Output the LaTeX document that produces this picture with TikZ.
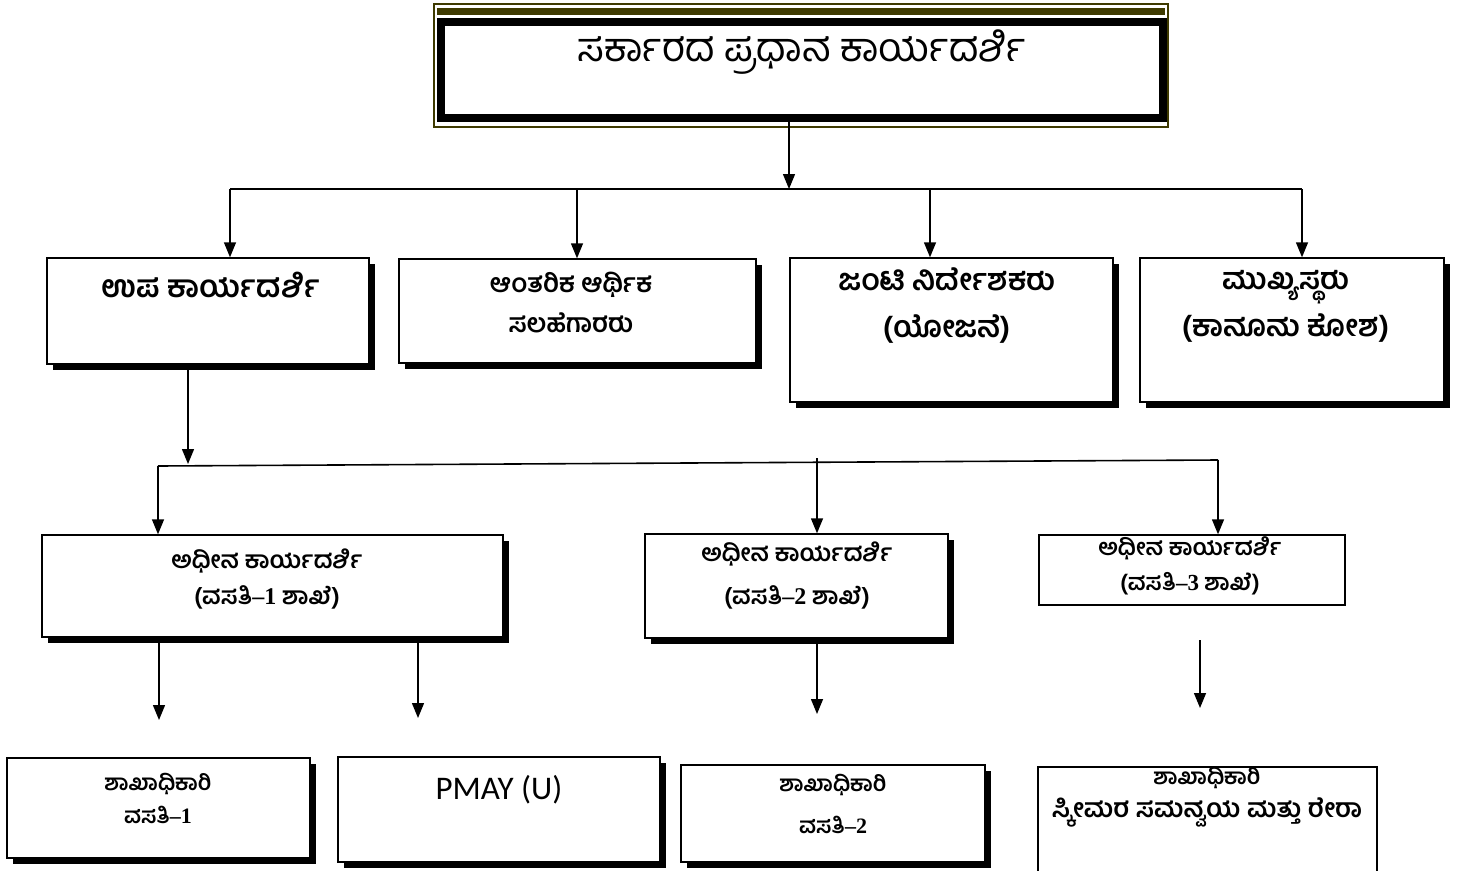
\documentclass[tikz,border=0pt]{standalone}
\usepackage{fontspec}
\setmainfont{Liberation Serif}
\newfontfamily\kn[Script=Kannada]{Hind Mysuru}
\newfontfamily\calfont{Carlito}
\usetikzlibrary{arrows.meta,positioning,shadows}
\definecolor{olivedark}{RGB}{62,58,0}
\newcommand{\tnum}[1]{{\rmfamily\bfseries #1}}
\begin{document}
\begin{tikzpicture}[x=1pt,y=-1pt,
    box/.style={draw,line width=1.4pt,fill=white,inner sep=0pt},
    shbox/.style={box,drop shadow={shadow xshift=6pt,shadow yshift=-6pt,fill=black,opacity=1}},
    lbl/.style 2 args={align=center,inner sep=0pt,font=\kn\bfseries\fontsize{#1}{#2}\selectfont},
    arr/.style={line width=1.4pt,-{Triangle[length=15pt,width=12pt]}},
    bus/.style={line width=1.6pt}]
  \useasboundingbox (0,0) rectangle (1471,870);

  % Head of department
  \draw[olivedark,line width=1.2pt] (434,4) rectangle (1168,127);
  \fill[olivedark] (437,8) rectangle (1165,15);
  \node[draw,line width=8pt,minimum width=722pt,minimum height=96pt,inner sep=0pt] (psec) at (802,70) {};
  \node[font=\kn\fontsize{40}{48}\selectfont] (psec-t) at (802,52) {ಸರ್ಕಾರದ ಪ್ರಧಾನ ಕಾರ್ಯದರ್ಶಿ};

  % Second level
  \node[shbox,minimum width=322pt,minimum height=106pt] (dsec) at (208,311) {};
  \node[lbl={31}{40}] (dsec-t) at (211,285) {ಉಪ ಕಾರ್ಯದರ್ಶಿ};
  \node[shbox,minimum width=357pt,minimum height=104pt] (adv) at (577.5,311) {};
  \node[lbl={26}{40}] (adv-t) at (571,303) {ಆಂತರಿಕ ಆರ್ಥಿಕ\\ಸಲಹೆಗಾರರು};
  \node[shbox,minimum width=323pt,minimum height=144pt] (jdir) at (951.5,330) {};
  \node[lbl={30}{47}] (jdir-t) at (947,306) {ಜಂಟಿ ನಿರ್ದೇಶಕರು\\(ಯೋಜನೆ)};
  \node[shbox,minimum width=304pt,minimum height=144pt] (chief) at (1292,330) {};
  \node[lbl={30}{47}] (chief-t) at (1286,306) {ಮುಖ್ಯಸ್ಥರು\\(ಕಾನೂನು ಕೋಶ)};

  % Third level
  \node[shbox,minimum width=461pt,minimum height=102pt] (usec1) at (272.5,586) {};
  \node[lbl={24}{36}] (usec1-t) at (267,579) {ಅಧೀನ ಕಾರ್ಯದರ್ಶಿ\\(ವಸತಿ\tnum{–1} ಶಾಖೆ)};
  \node[shbox,minimum width=303pt,minimum height=104pt] (usec2) at (796.5,586) {};
  \node[lbl={24}{43}] (usec2-t) at (797,576) {ಅಧೀನ ಕಾರ್ಯದರ್ಶಿ\\(ವಸತಿ\tnum{–2} ಶಾಖೆ)};
  \node[box,minimum width=306pt,minimum height=70pt] (usec3) at (1192,570) {};
  \node[lbl={23}{35}] (usec3-t) at (1190,566) {ಅಧೀನ ಕಾರ್ಯದರ್ಶಿ\\(ವಸತಿ\tnum{–3} ಶಾಖೆ)};

  % Section officers
  \node[shbox,minimum width=303pt,minimum height=100pt] (so1) at (158.5,808) {};
  \node[lbl={22}{33}] (so1-t) at (158,798) {ಶಾಖಾಧಿಕಾರಿ\\ವಸತಿ\tnum{–1}};
  \node[shbox,minimum width=322pt,minimum height=105pt] (pmay) at (499,809.5) {};
  \node[font=\calfont\fontsize{33}{40}\selectfont,inner sep=0pt] (pmay-t) at (499,790) {PMAY (U)};
  \node[shbox,minimum width=304pt,minimum height=97pt] (so2) at (833,813.5) {};
  \node[lbl={22}{42}] (so2-t) at (833,804) {ಶಾಖಾಧಿಕಾರಿ\\ವಸತಿ\tnum{–2}};
  \node[box,line width=2.2pt,minimum width=339pt,minimum height=113pt] (so3) at (1207.5,823.5) {};
  \node[lbl={22}{33}] (so3-t) at (1207,797) {ಶಾಖಾಧಿಕಾರಿ\\{\fontsize{26}{33}\selectfont ಸ್ಕೀಮರ ಸಮನ್ವಯ ಮತ್ತು ರೇರಾ}};

  % Connectors from the head
  \coordinate (hb) at (789,189);
  \coordinate (hb1) at (230,189);
  \coordinate (hb2) at (577,189);
  \coordinate (hb3) at (930,189);
  \coordinate (hb4) at (1302,189);
  \draw[arr] (psec.south -| hb) -- (hb);
  \draw[bus] (hb1) -- (hb4);
  \draw[arr] (hb1) -- (hb1 |- dsec.north);
  \draw[arr] (hb2) -- (hb2 |- adv.north);
  \draw[arr] (hb3) -- (hb3 |- jdir.north);
  \draw[arr] (hb4) -- (hb4 |- chief.north);

  % Connectors from the deputy secretary
  \coordinate (db) at (188,464);
  \coordinate (db1) at (158,466);
  \coordinate (db2) at (817,458);
  \coordinate (db3) at (1218,460);
  \draw[arr] (dsec.south -| db) -- (db);
  \draw[bus] (db1) -- (db3);
  \draw[arr] (db1) -- (db1 |- usec1.north);
  \draw[arr] (db2) -- (db2 |- usec2.north);
  \draw[arr] (db3) -- (db3 |- usec3.north);

  % Connectors to the section officers
  \coordinate (s1) at (159,720);
  \coordinate (s2) at (418,718);
  \coordinate (s3) at (817,714);
  \coordinate (s4a) at (1200,640);
  \coordinate (s4) at (1200,708);
  \draw[arr] (usec1.south -| s1) -- (s1);
  \draw[arr] (usec1.south -| s2) -- (s2);
  \draw[arr] (usec2.south -| s3) -- (s3);
  \draw[arr] (s4a) -- (s4);
\end{tikzpicture}
\end{document}
